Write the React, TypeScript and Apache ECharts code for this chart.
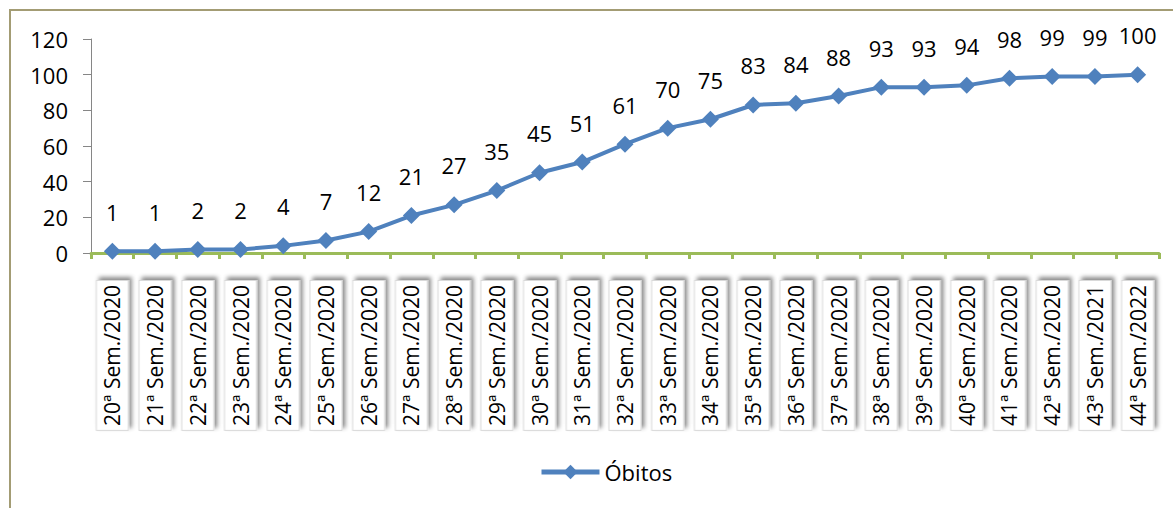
import React, { useEffect, useRef } from "react";
import * as echarts from "echarts";

const categories = [
  "20ª Sem./2020", "21ª Sem./2020", "22ª Sem./2020", "23ª Sem./2020", "24ª Sem./2020",
  "25ª Sem./2020", "26ª Sem./2020", "27ª Sem./2020", "28ª Sem./2020", "29ª Sem./2020",
  "30ª Sem./2020", "31ª Sem./2020", "32ª Sem./2020", "33ª Sem./2020", "34ª Sem./2020",
  "35ª Sem./2020", "36ª Sem./2020", "37ª Sem./2020", "38ª Sem./2020", "39ª Sem./2020",
  "40ª Sem./2020", "41ª Sem./2020", "42ª Sem./2020", "43ª Sem./2021", "44ª Sem./2022",
];
const obitos = [1, 1, 2, 2, 4, 7, 12, 21, 27, 35, 45, 51, 61, 70, 75, 83, 84, 88, 93, 93, 94, 98, 99, 99, 100];
const seriesName = "Óbitos";

const FONT = "'Open Sans', 'Noto Sans', sans-serif";

export default function App() {
  const ref = useRef<HTMLDivElement>(null);
  useEffect(() => {
    if (!ref.current) return;
    const chart = echarts.init(ref.current, undefined, { renderer: "svg" });
    chart.setOption({
      animation: false,
      backgroundColor: "transparent",
      grid: { left: 91, right: 14, top: 39, bottom: 255, containLabel: false },
      legend: {
        bottom: 20,
        left: 534,
        itemWidth: 58,
        itemHeight: 18,
        itemGap: 4,
        lineStyle: { width: 5 },
        textStyle: { fontFamily: FONT, fontSize: 22, color: "#000" },
        data: [seriesName],
      },
      xAxis: {
        type: "category",
        data: categories,
        boundaryGap: true,
        axisLine: { lineStyle: { color: "#9BBB59", width: 3 } },
        axisTick: { show: true, length: 6, lineStyle: { color: "#9BBB59", width: 3 } },
        axisLabel: {
          rotate: 90,
          interval: 0,
          margin: 28,
          fontFamily: FONT,
          fontSize: 21,
          lineHeight: 23,
          color: "#000",
          backgroundColor: "#fff",
          borderColor: "#d9d9d9",
          borderWidth: 1,
          padding: [4, 4, 4, 4],
          shadowColor: "rgba(0,0,0,0.45)",
          shadowBlur: 4,
          shadowOffsetX: 3,
          shadowOffsetY: 3,
        },
      },
      yAxis: {
        type: "value",
        min: 0,
        max: 120,
        interval: 20,
        splitLine: { show: false },
        axisLine: { show: true, lineStyle: { color: "#868686", width: 1 } },
        axisTick: { show: true, length: 8, lineStyle: { color: "#868686" } },
        axisLabel: { fontFamily: FONT, fontSize: 22, color: "#000", margin: 23 },
      },
      series: [
        {
          name: seriesName,
          type: "line",
          data: obitos,
          symbol: "diamond",
          symbolSize: 17,
          lineStyle: { color: "#4F81BD", width: 4 },
          itemStyle: { color: "#4F81BD" },
          label: {
            show: true,
            position: "top",
            distance: 20,
            fontFamily: FONT,
            fontSize: 22,
            color: "#000",
          },
        },
      ],
    });
    return () => chart.dispose();
  }, []);
  return (
    <div style={{ position: "fixed", left: 0, top: 0, width: 1173, height: 508, background: "#fff" }}>
      <div ref={ref} style={{ position: "absolute", left: 0, top: 0, width: 1173, height: 508 }} />
      <div
        style={{
          position: "absolute",
          left: 9,
          top: 9,
          width: 1173 - 9,
          height: 508 - 9,
          borderLeft: "2px solid #A39C74",
          borderTop: "2px solid #A39C74",
          boxSizing: "border-box",
          pointerEvents: "none",
        }}
      />
    </div>
  );
}
